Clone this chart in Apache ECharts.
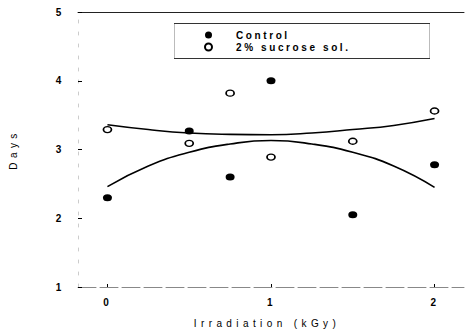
<!DOCTYPE html>
<html>
<head>
<meta charset="utf-8">
<script src="https://cdn.jsdelivr.net/npm/echarts@6/dist/echarts.min.js"></script>
<style>
  html, body { margin: 0; padding: 0; background: #fff; }
  #chart { width: 465px; height: 333px; }
  /* spaced-out lettering of the typewriter-style labels */
  #chart text { letter-spacing: 4.4px; }
  #chart text[style*="bold"], #chart text[font-weight="bold"] { letter-spacing: 2.6px; }
</style>
</head>
<body>
<div id="chart"></div>
<script>
// Irradiation dose (kGy) of each sample
const dose = [0, 0.5, 0.75, 1, 1.5, 2];
// Days, control samples
const control = [2.3, 3.27, 2.6, 4.0, 2.05, 2.78];
// Days, samples treated with 2% sucrose solution
const sucrose = [3.29, 3.09, 3.82, 2.89, 3.12, 3.56];

// Fitted trend curves, sampled along the dose range
const fitDose = [0, 0.25, 0.5, 0.75, 1, 1.25, 1.5, 1.75, 2];
const controlFit = [2.46, 2.76, 2.96, 3.08, 3.13, 3.08, 2.96, 2.76, 2.45];
const sucroseFit = [3.36, 3.29, 3.24, 3.22, 3.215, 3.24, 3.29, 3.35, 3.45];

// Axis ticks
const doseTicks = [0, 1, 2];
const dayTicks = [1, 2, 3, 4, 5];

const seriesNames = ['Control', '2% sucrose sol.'];

const pairs = (xs, ys) => xs.map((x, i) => [x, ys[i]]);
const ellipse = 'path://M0 5 A5 5 0 1 1 10 5 A5 5 0 1 1 0 5 Z';

const chart = echarts.init(document.getElementById('chart'), null, { renderer: 'svg' });

chart.setOption({
  backgroundColor: '#fff',
  animation: false,
  textStyle: { fontFamily: 'Liberation Sans, Arial, sans-serif', color: '#000' },
  grid: { left: 73, right: 1, top: 12, bottom: 46 },
  xAxis: [{
    type: 'value',
    min: -0.18,
    max: 2.18,
    name: 'Irradiation (kGy)',
    nameLocation: 'middle',
    nameGap: 31,
    nameTextStyle: { fontSize: 10, color: '#000', padding: [0, 8, 0, 0] },
    axisLine: { show: true, onZero: false, lineStyle: { color: '#888', width: 1, type: [18, 4] } },
    axisTick: { show: true, inside: true, length: 3, customValues: doseTicks, lineStyle: { color: '#000', width: 1 } },
    axisLabel: { customValues: doseTicks, margin: 10, fontSize: 10, fontWeight: 'bold', color: '#000' },
    splitLine: { show: false }
  }, {
    type: 'value',
    position: 'top',
    min: -0.18,
    max: 2.18,
    axisLine: { show: true, onZero: false, lineStyle: { color: '#222', width: 1 } },
    axisTick: { show: false },
    axisLabel: { show: false },
    splitLine: { show: false }
  }],
  yAxis: {
    type: 'value',
    min: 1,
    max: 5,
    interval: 1,
    name: 'Days',
    nameLocation: 'middle',
    nameGap: 60,
    nameRotate: 90,
    nameTextStyle: { fontSize: 10, color: '#000' },
    axisLine: { show: true, onZero: false, lineStyle: { color: '#ccc', width: 1, type: [3, 9] } },
    axisTick: { show: true, inside: true, length: 4, customValues: dayTicks, lineStyle: { color: '#000', width: 1 } },
    axisLabel: { customValues: dayTicks, margin: 14, fontSize: 10, fontWeight: 'bold', color: '#000' },
    splitLine: { show: false }
  },
  legend: {
    data: seriesNames,
    orient: 'vertical',
    left: 204,
    top: 29,
    itemWidth: 9,
    itemHeight: 7,
    itemGap: 0,
    padding: 0,
    textStyle: { fontSize: 10, fontWeight: 'bold', color: '#000', lineHeight: 12, padding: [0, 0, 0, 18] }
  },
  graphic: [{
    type: 'rect',
    shape: { x: 174.5, y: 23.5, width: 255, height: 35 },
    style: { fill: 'none', stroke: '#bbb', lineWidth: 1 },
    silent: true
  }, {
    type: 'polyline',
    shape: { points: [[174, 23.5], [430, 23.5]] },
    style: { stroke: '#333', lineWidth: 1 },
    silent: true
  }, {
    type: 'polyline',
    shape: { points: [[174, 58.5], [430, 58.5]] },
    style: { stroke: '#333', lineWidth: 1 },
    silent: true
  }],
  series: [{
    name: 'Control fit',
    type: 'line',
    data: pairs(fitDose, controlFit),
    smooth: true,
    showSymbol: false,
    lineStyle: { color: '#000', width: 1.6 },
    z: 2
  }, {
    name: 'Sucrose fit',
    type: 'line',
    data: pairs(fitDose, sucroseFit),
    smooth: true,
    showSymbol: false,
    lineStyle: { color: '#000', width: 1.6 },
    z: 2
  }, {
    name: 'Control',
    type: 'scatter',
    data: pairs(dose, control),
    symbol: ellipse,
    symbolSize: [9, 7],
    itemStyle: { color: '#000', opacity: 1 },
    z: 3
  }, {
    name: '2% sucrose sol.',
    type: 'scatter',
    data: pairs(dose, sucrose),
    symbol: ellipse,
    symbolSize: [8, 6],
    itemStyle: { color: '#fff', borderColor: '#000', borderWidth: 1.5, opacity: 1 },
    z: 3
  }]
});
</script>
</body>
</html>
